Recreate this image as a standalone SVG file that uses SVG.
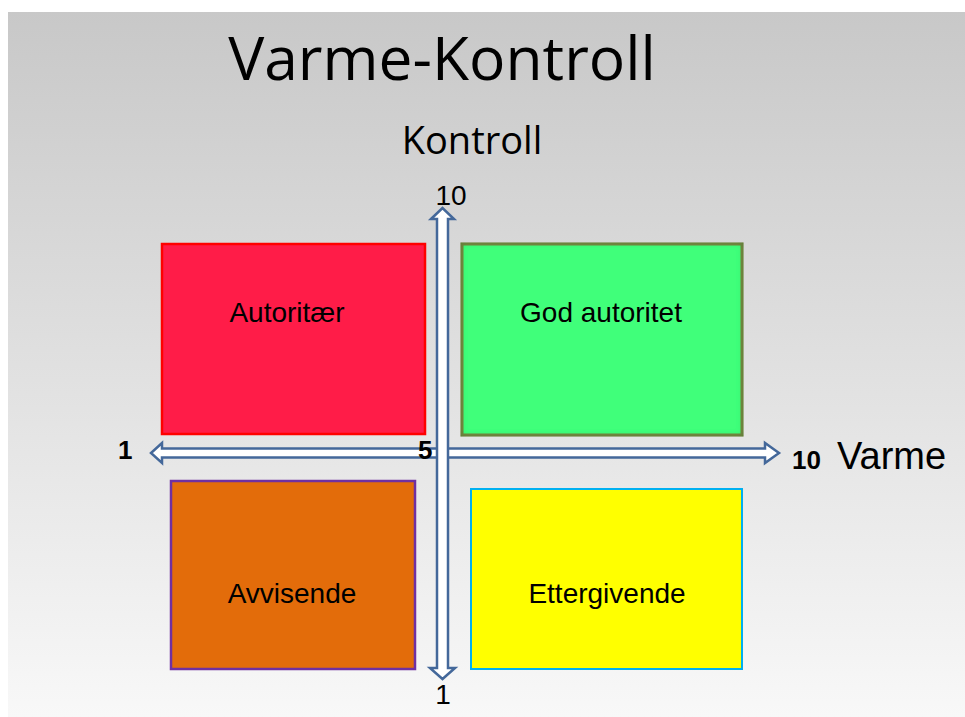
<svg xmlns="http://www.w3.org/2000/svg" width="965" height="717" viewBox="0 0 965 717">
<defs>
<linearGradient id="bg" x1="0" y1="0" x2="0" y2="1">
<stop offset="0" stop-color="#c8c8c8"/>
<stop offset="1" stop-color="#f8f8f8"/>
</linearGradient>
<filter id="inner" x="-5%" y="-5%" width="110%" height="110%">
<feGaussianBlur in="SourceAlpha" stdDeviation="3" result="b"/>
<feComposite in="SourceAlpha" in2="b" operator="out" result="edge"/>
<feFlood flood-color="#2a6a30" flood-opacity="0.5"/>
<feComposite in2="edge" operator="in" result="sh"/>
<feMerge><feMergeNode in="SourceGraphic"/><feMergeNode in="sh"/></feMerge>
</filter>
</defs>
<style>
.lbl{font-family:"Liberation Sans",Arial,sans-serif;font-size:28px;fill:#000;text-anchor:middle}
.ax{font-family:"Liberation Sans",Arial,sans-serif;font-size:26px;fill:#000;font-weight:bold}
.axr{font-family:"Liberation Sans",Arial,sans-serif;font-size:28px;fill:#000}
.arrow{fill:#fff;stroke:#44689a;stroke-width:2.5;stroke-linejoin:miter}
</style>
<rect x="0" y="0" width="965" height="717" fill="#fff"/>
<rect x="8" y="12" width="957" height="705" fill="url(#bg)"/>
<text x="442" y="80" font-family="'Open Sans',sans-serif" font-size="60.5" fill="#000" text-anchor="middle">Varme-Kontroll</text>
<text x="472" y="154" font-family="'Open Sans',sans-serif" font-size="38" fill="#000" text-anchor="middle">Kontroll</text>
<g id="autoritaer">
<rect x="162" y="244" width="263" height="190" fill="#ff1c48" stroke="#ff0000" stroke-width="2.5"/>
<text class="lbl" x="287" y="322">Autoritær</text>
</g>
<g id="god-autoritet">
<rect x="462" y="244" width="280" height="191" fill="#40ff7a" stroke="#76883f" stroke-width="3" filter="url(#inner)"/>
<text class="lbl" x="601" y="322">God autoritet</text>
</g>
<g id="avvisende">
<rect x="171" y="481" width="244" height="188" fill="#e36c0a" stroke="#7030a0" stroke-width="2.5"/>
<text class="lbl" x="292" y="603">Avvisende</text>
</g>
<g id="ettergivende">
<rect x="471" y="489" width="271" height="180" fill="#ffff00" stroke="#00b0f0" stroke-width="2"/>
<text class="lbl" x="607" y="603">Ettergivende</text>
</g>
<g id="connectors">
<path class="arrow" d="M162,443 L151,453 L162,463 L162,457.5 L765,457.5 L765,463 L779,453 L765,443 L765,448.5 L162,448.5 Z"/>
<path class="arrow" d="M431,219 L442.5,208 L454,219 L448,219 L448,668 L455,668 L442.5,679 L430,668 L437,668 L437,219 Z"/>
</g>
<text class="axr" x="451" y="205" text-anchor="middle">10</text>
<text class="axr" x="443" y="704" text-anchor="middle">1</text>
<text class="ax" x="118" y="459">1</text>
<text class="ax" x="418" y="459">5</text>
<text class="ax" x="792" y="469">10</text>
<text x="837" y="469" font-family="'Liberation Sans',Arial,sans-serif" font-size="38" fill="#000">Varme</text>
</svg>
